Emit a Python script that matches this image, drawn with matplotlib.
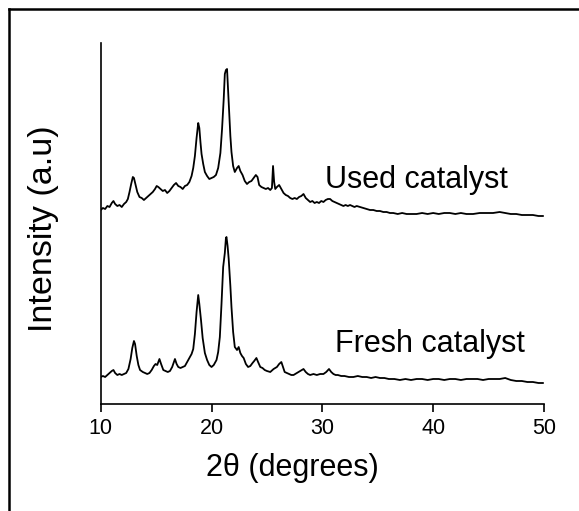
import matplotlib
matplotlib.use("Agg")
import matplotlib.pyplot as plt
from matplotlib.lines import Line2D

plt.rcParams['font.family'] = ['Liberation Sans', 'DejaVu Sans']

# ---- data (2theta in degrees, intensity in arbitrary units) ----
used_2theta = [10.0, 10.2, 10.4, 10.6, 10.8, 11.0, 11.15, 11.3, 11.5, 11.7, 11.9, 12.1, 12.3, 12.45,
               12.6, 12.75, 12.9, 13.0, 13.15, 13.3, 13.5, 13.7, 13.9, 14.1, 14.3, 14.5, 14.7, 14.9,
               15.05, 15.2, 15.4, 15.6, 15.8, 16.0, 16.2, 16.4, 16.6, 16.8, 17.0, 17.2, 17.4, 17.6,
               17.8, 18.0, 18.2, 18.35, 18.5, 18.65, 18.8, 18.9, 19.0, 19.1, 19.25, 19.4, 19.6, 19.8,
               20.0, 20.2, 20.4, 20.6, 20.8, 20.95, 21.1, 21.2, 21.3, 21.4, 21.5, 21.6, 21.7, 21.8,
               21.95, 22.1, 22.3, 22.45, 22.6, 22.8, 23.0, 23.2, 23.4, 23.6, 23.8, 24.0, 24.15, 24.3,
               24.5, 24.7, 24.9, 25.1, 25.3, 25.45, 25.55, 25.65, 25.75, 25.9, 26.1, 26.3, 26.5, 26.7,
               26.9, 27.1, 27.3, 27.5, 27.7, 27.9, 28.1, 28.3, 28.5, 28.7, 28.9, 29.1, 29.3, 29.5,
               29.7, 29.9, 30.1, 30.3, 30.5, 30.7, 30.9, 31.1, 31.3, 31.5, 31.7, 31.9, 32.1, 32.3,
               32.5, 32.7, 32.9, 33.1, 33.4, 33.7, 34.0, 34.3, 34.6, 34.9, 35.2, 35.5, 35.8, 36.1,
               36.4, 36.8, 37.2, 37.6, 38.0, 38.5, 39.0, 39.5, 40.0, 40.5, 41.0, 41.5, 42.0, 42.5,
               43.0, 43.6, 44.2, 44.8, 45.4, 46.0, 46.5, 47.0, 47.5, 48.0, 48.5, 49.0, 49.5, 49.9]
used_intensity = [194, 196, 195, 198, 197, 201, 203, 200, 198, 199, 197, 200, 202, 205,
                  212, 220, 227, 226, 219, 212, 207, 206, 204, 206, 208, 210, 212, 215,
                  218, 217, 215, 213, 214, 211, 213, 216, 219, 221, 218, 217, 215, 218,
                  219, 222, 228, 236, 248, 266, 281, 276, 262, 250, 240, 232, 228, 225,
                  226, 227, 229, 236, 251, 275, 305, 330, 334, 335, 312, 290, 268, 252,
                  238, 232, 236, 238, 233, 229, 223, 220, 222, 223, 226, 229, 227, 219,
                  217, 216, 215, 216, 214, 216, 238, 222, 215, 217, 219, 215, 211, 209,
                  208, 206, 205, 206, 205, 207, 208, 210, 206, 204, 202, 203, 201, 202,
                  201, 203, 202, 204, 205, 205, 203, 202, 201, 200, 199, 198, 199, 198,
                  199, 198, 197, 198, 197, 196, 195, 194, 194, 193, 193, 192, 192, 191,
                  191, 190, 191, 190, 190, 190, 191, 190, 191, 190, 191, 191, 190, 191,
                  190, 190, 191, 191, 191, 192, 191, 190, 190, 189, 189, 189, 188, 188]

fresh_2theta = [10.0, 10.2, 10.4, 10.6, 10.8, 11.0, 11.15, 11.3, 11.5, 11.7, 11.9, 12.1, 12.3, 12.5,
                12.7, 12.85, 13.0, 13.1, 13.25, 13.4, 13.55, 13.8, 14.0, 14.2, 14.4, 14.6, 14.8, 14.95,
                15.1, 15.3, 15.45, 15.65, 15.85, 16.05, 16.25, 16.45, 16.6, 16.7, 16.85, 17.0, 17.2,
                17.4, 17.6, 17.8, 18.0, 18.2, 18.35, 18.5, 18.65, 18.8, 18.9, 19.05, 19.2, 19.4, 19.6,
                19.8, 20.0, 20.2, 20.45, 20.6, 20.75, 20.9, 21.05, 21.2, 21.3, 21.35, 21.45, 21.55,
                21.7, 21.8, 21.95, 22.1, 22.3, 22.45, 22.6, 22.75, 22.9, 23.1, 23.3, 23.5, 23.7, 23.85,
                24.05, 24.2, 24.4, 24.6, 24.8, 25.0, 25.3, 25.6, 25.9, 26.1, 26.3, 26.45, 26.6, 26.8,
                27.0, 27.2, 27.4, 27.7, 28.0, 28.3, 28.5, 28.7, 28.9, 29.2, 29.5, 29.8, 30.1, 30.35,
                30.6, 30.8, 31.0, 31.2, 31.4, 31.7, 32.0, 32.4, 32.8, 33.2, 33.6, 34.0, 34.4, 34.8,
                35.2, 35.6, 36.0, 36.5, 37.0, 37.5, 38.0, 38.5, 39.0, 39.5, 40.0, 40.5, 41.0, 41.5,
                42.0, 42.5, 43.0, 43.5, 44.0, 44.5, 45.0, 45.5, 46.0, 46.5, 47.0, 47.5, 48.0, 48.5,
                49.0, 49.5, 49.9]
fresh_intensity = [27, 28, 27, 29, 31, 33, 34, 31, 29, 30, 29, 30, 31, 35,
                   45, 56, 63, 60, 48, 39, 34, 32, 31, 30, 31, 34, 38, 40,
                   39, 45, 40, 34, 33, 32, 33, 37, 42, 45, 40, 37, 36,
                   37, 38, 42, 46, 50, 55, 70, 92, 109, 100, 84, 66, 51, 44,
                   39, 37, 39, 44, 52, 67, 100, 137, 151, 166, 167, 158, 145,
                   118, 97, 72, 57, 54, 57, 51, 48, 46, 40, 37, 38, 41, 43,
                   46, 42, 37, 36, 34, 33, 32, 35, 37, 40, 42, 37, 32, 31,
                   30, 29, 29, 31, 33, 35, 32, 30, 29, 30, 29, 30, 30, 32,
                   35, 32, 30, 29, 29, 28, 28, 27, 27, 28, 27, 27, 26, 27,
                   26, 26, 25, 25, 24, 25, 24, 25, 25, 24, 25, 25, 24, 25,
                   25, 24, 25, 25, 25, 24, 25, 25, 25, 26, 24, 23, 23, 22,
                   22, 21, 21]

series_labels = ["Used catalyst", "Fresh catalyst"]
x_ticks = [10, 20, 30, 40, 50]
x_label = "2θ (degrees)"
y_label = "Intensity (a.u)"

W, H = 579, 511
fig = plt.figure(figsize=(W / 100, H / 100), dpi=100)
ax = fig.add_axes([100.7 / W, 1 - 404 / H, (544 - 100.7) / W, (404 - 42.7) / H])

ax.plot(used_2theta, used_intensity, color='black', lw=1.3)
ax.plot(fresh_2theta, fresh_intensity, color='black', lw=1.3)

ax.set_xlim(10, 50)
ax.set_ylim(0, 361.3)
ax.set_xticks(x_ticks)
ax.set_xticklabels([str(t) for t in x_ticks])
ax.set_yticks([])
for s in ['top', 'right']:
    ax.spines[s].set_visible(False)
for s in ['left', 'bottom']:
    ax.spines[s].set_linewidth(1.2)
ax.tick_params(axis='x', direction='out', length=6, width=1.2, pad=4, labelsize=15.5)

ax.text(30.24, 216, series_labels[0], fontsize=22, ha='left', va='baseline')
ax.text(31.14, 52, series_labels[1], fontsize=22, ha='left', va='baseline')

fig.text(292 / W, 1 - 468 / H, x_label, fontsize=22, ha='center', va='center')
fig.text(44 / W, 1 - 229 / H, y_label, fontsize=24.5, ha='center', va='center', rotation=90)

# figure frame (top and left edges)
fig.add_artist(Line2D([9.3 / W, 1.0], [1 - 9.3 / H, 1 - 9.3 / H], transform=fig.transFigure,
                      color='black', lw=1.8))
fig.add_artist(Line2D([9.3 / W, 9.3 / W], [0.0, 1 - 9.3 / H], transform=fig.transFigure,
                      color='black', lw=1.8))

fig.savefig("out.png", dpi=100)
